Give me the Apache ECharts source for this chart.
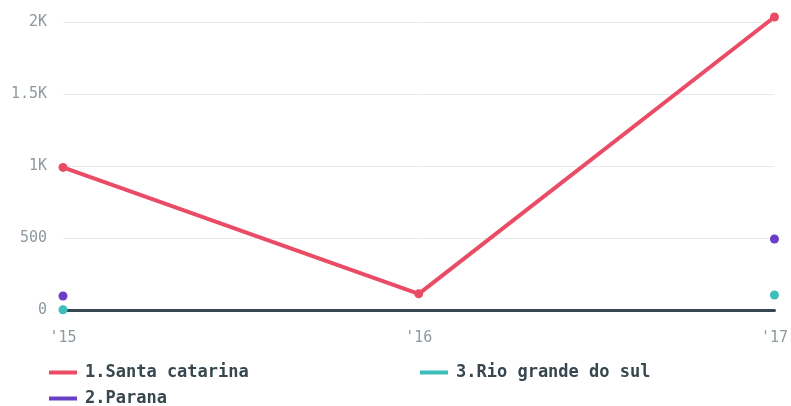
<!DOCTYPE html>
<html><head><meta charset="utf-8">
<script src="https://cdn.jsdelivr.net/npm/echarts@6/dist/echarts.min.js"></script>
<style>html,body{margin:0;padding:0;background:#fff}#c{width:791px;height:406px}</style>
</head><body><div id="c"></div>
<script>
var years = ["'15", "'16", "'17"];
var santaCatarina = [990, 112, 2035];
var parana = [97, null, 493];
var rioGrandeDoSul = [2, null, 104];
var yTicks = [0, 500, 1000, 1500, 2000];

var colors = ['#e94c64', '#6b3ec7', '#3dbdbb'];
var chart = echarts.init(document.getElementById('c'));
var font = '"DejaVu Sans Mono", monospace';
function legend(name, left, top) {
  return {
    data: [name], left: left, top: top, padding: 0, itemWidth: 28, itemHeight: 4, itemGap: 10,
    icon: 'rect', textStyle: {fontFamily: font, fontWeight: 'bold', fontSize: 17, color: '#37474f', padding: [0, 0, 0, 3]}
  };
}
function ser(name, data, color) {
  return {
    name: name, type: 'line', data: data, clip: false, connectNulls: false,
    symbol: 'circle', symbolSize: 9, showSymbol: true,
    lineStyle: {width: 4, color: color}, itemStyle: {color: color}
  };
}
chart.setOption({
  animation: false,
  color: colors,
  grid: {left: 63, right: 16, top: 22, bottom: 96},
  legend: [legend('1.Santa catarina', 49, 364), legend('3.Rio grande do sul', 420, 364), legend('2.Parana', 49, 390)],
  xAxis: {
    type: 'category', data: years, boundaryGap: false,
    axisLine: {show: true, lineStyle: {color: '#37474f', width: 3}},
    axisTick: {show: false},
    axisLabel: {fontFamily: font, fontSize: 15, color: '#8e999e', margin: 21}
  },
  yAxis: {
    type: 'value', min: 0, max: 2000, interval: 500,
    axisLine: {show: false}, axisTick: {show: false},
    splitLine: {lineStyle: {color: '#e8eaeb', width: 1}},
    axisLabel: {fontFamily: font, fontSize: 15, color: '#8e999e', margin: 16,
      formatter: function (v) { return v >= 1000 ? (v / 1000) + 'K' : v; }}
  },
  series: [
    ser('1.Santa catarina', santaCatarina, colors[0]),
    ser('2.Parana', parana, colors[1]),
    ser('3.Rio grande do sul', rioGrandeDoSul, colors[2])
  ]
});
</script></body></html>
